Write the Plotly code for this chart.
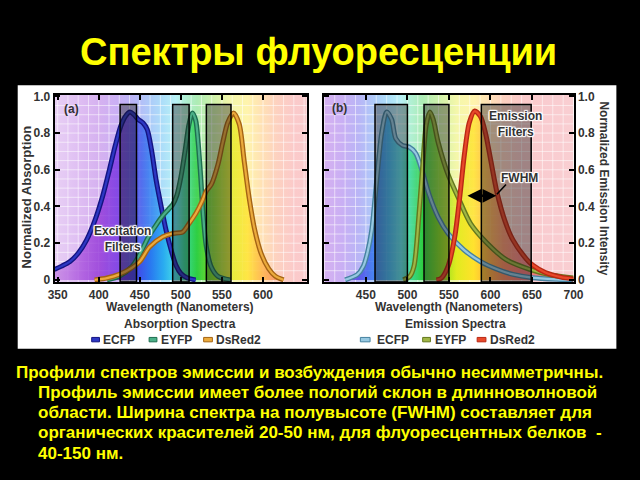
import plotly.graph_objects as go

W, H = 640, 480

# ---------------- data ----------------
abs_ecfp_wl = [346, 355, 365, 375, 385, 395, 405, 413, 420, 427, 433, 438, 443, 448, 454, 459, 464, 470, 476, 482, 488, 494, 500, 508, 518]
abs_ecfp = [0.057, 0.075, 0.10, 0.145, 0.215, 0.32, 0.46, 0.60, 0.73, 0.84, 0.895, 0.915, 0.90, 0.875, 0.855, 0.82, 0.715, 0.54, 0.40, 0.27, 0.165, 0.08, 0.035, 0.01, 0.0]

abs_eyfp_wl = [410, 425, 440, 450, 460, 470, 478, 485, 490, 495, 500, 505, 510, 514, 518, 521, 524, 527, 531, 537, 545, 560]
abs_eyfp = [0.0, 0.02, 0.07, 0.14, 0.23, 0.30, 0.35, 0.385, 0.41, 0.46, 0.56, 0.70, 0.85, 0.91, 0.87, 0.75, 0.57, 0.36, 0.18, 0.07, 0.02, 0.0]

abs_dsred_wl = [395, 410, 425, 440, 450, 462, 478, 490, 502, 510, 518, 526, 531, 537, 545, 551, 557, 564, 571, 577, 583, 590, 598, 607, 615, 625]
abs_dsred = [0.0, 0.01, 0.03, 0.065, 0.10, 0.18, 0.235, 0.253, 0.26, 0.307, 0.36, 0.43, 0.484, 0.52, 0.627, 0.75, 0.857, 0.91, 0.85, 0.65, 0.45, 0.27, 0.14, 0.06, 0.02, 0.0]

em_ecfp_wl = [425, 440, 447, 452, 457, 463, 469, 475, 481, 486, 494, 502, 510, 518, 526, 537, 549, 568, 588, 608, 627, 650, 680, 700]
em_ecfp = [0.0, 0.03, 0.075, 0.15, 0.27, 0.54, 0.80, 0.915, 0.875, 0.77, 0.733, 0.724, 0.69, 0.59, 0.467, 0.342, 0.253, 0.164, 0.10, 0.058, 0.03, 0.012, 0.003, 0.0]

em_eyfp_wl = [495, 503, 508, 514, 518.5, 522.5, 527, 531, 537, 549, 561, 576, 596, 619, 647, 675, 700]
em_eyfp = [0.0, 0.02, 0.075, 0.36, 0.627, 0.84, 0.915, 0.875, 0.75, 0.573, 0.45, 0.307, 0.2, 0.11, 0.058, 0.025, 0.01]

em_dsred_wl = [535, 541, 549, 557, 563, 568.5, 574.5, 581, 588, 594, 600, 607.5, 617.5, 627, 643, 651, 666, 685, 700]
em_dsred = [0.0, 0.01, 0.075, 0.235, 0.45, 0.68, 0.857, 0.92, 0.89, 0.80, 0.66, 0.484, 0.32, 0.218, 0.115, 0.08, 0.04, 0.015, 0.005]

excitation_filters = [(426, 446), (490, 510), (531, 561)]
emission_filters = [(461, 500), (520, 550), (589, 649)]
filter_top = 0.955

left_xticks = [350, 400, 450, 500, 550, 600]
right_xticks = [450, 500, 550, 600, 650, 700]
yticks = [0, 0.2, 0.4, 0.6, 0.8, 1.0]
ytick_text = ["0", "0.2", "0.4", "0.6", "0.8", "1.0"]

legend_names = ["ECFP", "EYFP", "DsRed2"]

# ---------------- styling ----------------
LEFT_RANGE = [346.4, 653.3]
RIGHT_RANGE = [400, 700]
Y_RANGE = [-0.012, 1.007]

abs_colors = [((20, 20, 130), (45, 55, 195)), ((30, 110, 80), (75, 175, 135)), ((165, 100, 20), (235, 170, 60))]
em_colors = [((70, 130, 160), (150, 200, 225)), ((100, 120, 30), (160, 182, 70)), ((185, 40, 20), (232, 72, 42))]

SAT = [(340, (200, 140, 225)), (360, (185, 110, 225)), (380, (165, 75, 220)), (400, (145, 50, 215)),
       (420, (115, 45, 225)), (440, (70, 60, 230)), (460, (40, 120, 240)), (475, (40, 170, 240)),
       (490, (70, 220, 230)), (500, (50, 215, 150)), (515, (40, 205, 60)), (535, (130, 220, 30)),
       (555, (225, 235, 30)), (575, (255, 225, 40)), (592, (255, 175, 60)), (610, (250, 135, 90)),
       (630, (245, 115, 115)), (660, (240, 120, 130)), (710, (240, 130, 140))]
G0, G1 = 340, 710


def rgb(c, a=1.0):
    return "rgba(%d,%d,%d,%.3f)" % (c[0], c[1], c[2], a)


def scale(alpha, pale=0.0):
    out = []
    for wl, c in SAT:
        cc = tuple(int(round(v + (255 - v) * pale)) for v in c)
        out.append([(wl - G0) / (G1 - G0), rgb(cc, alpha)])
    return out


def px2x(p):
    return p / W


def py2y(p):
    return 1 - p / H


fig = go.Figure()

FONT = "Liberation Sans, Arial, sans-serif"


def add_panel(xa, ya, xr, curves, wls, colors):
    # pale rainbow background
    for yb in (Y_RANGE[1], Y_RANGE[0]):
        fig.add_trace(go.Scatter(x=[xr[0], xr[1]], y=[yb, yb], xaxis=xa, yaxis=ya,
                                 mode="lines", line=dict(width=0), fill="tozeroy",
                                 fillgradient=dict(type="horizontal", colorscale=scale(1.0, 0.62), start=G0, stop=G1),
                                 hoverinfo="skip"))
    # grid
    gx, gy = [], []
    v = 350.0
    while v <= xr[1]:
        if v > xr[0]:
            gx += [v, v, None]
            gy += [Y_RANGE[0], Y_RANGE[1], None]
        v += 12.5
    h = 0.05
    while h < 1.0:
        gx += [xr[0], xr[1], None]
        gy += [h, h, None]
        h += 0.05
    fig.add_trace(go.Scatter(x=gx, y=gy, xaxis=xa, yaxis=ya, mode="lines",
                             line=dict(color="rgba(255,255,255,0.55)", width=1), hoverinfo="skip"))
    # saturated fills
    for x, y in zip(wls, curves):
        fig.add_trace(go.Scatter(x=x, y=y, xaxis=xa, yaxis=ya, mode="lines",
                                 line=dict(width=0, shape="spline", smoothing=0.8), fill="tozeroy",
                                 fillgradient=dict(type="horizontal", colorscale=scale(0.78), start=G0, stop=G1),
                                 hoverinfo="skip"))
    # outlines + cores
    for (x, y), (oc, cc), name in zip(zip(wls, curves), colors, legend_names):
        fig.add_trace(go.Scatter(x=x, y=y, xaxis=xa, yaxis=ya, mode="lines", name=name,
                                 line=dict(color=rgb(oc), width=5, shape="spline", smoothing=0.8)))
        fig.add_trace(go.Scatter(x=x, y=y, xaxis=xa, yaxis=ya, mode="lines", name=name,
                                 line=dict(color=rgb(cc), width=2.2, shape="spline", smoothing=0.8)))


add_panel("x", "y", LEFT_RANGE, [abs_ecfp, abs_eyfp, abs_dsred], [abs_ecfp_wl, abs_eyfp_wl, abs_dsred_wl], abs_colors)
add_panel("x2", "y2", RIGHT_RANGE, [em_ecfp, em_eyfp, em_dsred], [em_ecfp_wl, em_eyfp_wl, em_dsred_wl], em_colors)

tickfont = dict(family=FONT, size=12, color="#333333", weight="bold")
axcommon = dict(showline=True, linecolor="black", linewidth=2, mirror="ticks", ticks="inside",
                ticklen=5, tickwidth=1.5, tickcolor="black", showgrid=False, zeroline=False,
                tickfont=tickfont)
ydom = [py2y(283), py2y(92)]

shapes = []
# white panel
shapes.append(dict(type="rect", xref="paper", yref="paper", x0=px2x(11), x1=px2x(626),
                   y0=py2y(351), y1=py2y(82), fillcolor="white", line=dict(width=0), layer="below"))
for (a, b) in excitation_filters:
    shapes.append(dict(type="rect", xref="x", yref="y", x0=a, x1=b, y0=Y_RANGE[0], y1=filter_top,
                       fillcolor="rgba(25,25,25,0.40)", line=dict(color="black", width=1.5), layer="above"))
for (a, b) in emission_filters:
    shapes.append(dict(type="rect", xref="x2", yref="y2", x0=a, x1=b, y0=Y_RANGE[0], y1=filter_top,
                       fillcolor="rgba(25,25,25,0.40)", line=dict(color="black", width=1.5), layer="above"))
# FWHM leader
shapes.append(dict(type="line", xref="x2", yref="y2", x0=607.7, y0=0.467, x1=618.7, y1=0.52,
                   line=dict(color="black", width=1.5), layer="above"))

ann = []
HALO = ("1px 0px 1px #fff, -1px 0px 1px #fff, 0px 1px 1px #fff, 0px -1px 1px #fff, "
        "1px 1px 1px #fff, -1px -1px 1px #fff, 1px -1px 1px #fff, -1px 1px 1px #fff")


def label(text, x, y, size=12, color="#333333", xref="paper", yref="paper", xanchor="center", angle=0,
          halo=False):
    ann.append(dict(text=text, x=x, y=y, xref=xref, yref=yref, xanchor=xanchor, yanchor="middle",
                    showarrow=False, textangle=angle,
                    font=dict(family=FONT, size=size, color=color, weight="bold",
                              shadow=HALO if halo else "none")))


# title
label("Спектры флуоресценции", px2x(320), py2y(48), size=38, color="#ffff00")
# axis titles
label("Normalized Absorption", px2x(20), py2y(196), size=13, angle=-90)
label("Normalized Emission Intensity", px2x(613), py2y(187), size=12, angle=90)
label("Wavelength (Nanometers)", px2x(178), py2y(308))
label("Wavelength (Nanometers)", px2x(454), py2y(308))
label("Absorption Spectra", px2x(177.5), py2y(326))
label("Emission Spectra", px2x(461), py2y(326))
# panel labels
label("(a)", 367, 0.93, xref="x", yref="y")
label("(b)", 418, 0.935, xref="x2", yref="y2")
label("Excitation<br>Filters", 429, 0.225, xref="x", yref="y", halo=True)
label("Emission<br>Filters", 630, 0.85, xref="x2", yref="y2", halo=True)
label("FWHM", 635.5, 0.555, xref="x2", yref="y2", halo=True)
# FWHM arrow
ann.append(dict(x=607, y=0.458, ax=570.5, ay=0.458, xref="x2", yref="y2", axref="x2", ayref="y2",
                text="", showarrow=True, arrowhead=2, arrowside="end+start", arrowwidth=2.5,
                arrowsize=1.1, arrowcolor="black"))

# manual legends
leg_left = [(87, 95, 97), (146, 154, 156), (202, 211, 213)]
leg_right = [(363, 373, 378), (427, 435, 438), (483, 492, 494)]
for items, cols in ((leg_left, abs_colors), (leg_right, em_colors)):
    for (s0, s1, tx), (oc, cc), name in zip(items, cols, legend_names):
        shapes.append(dict(type="rect", xref="paper", yref="paper", x0=px2x(s0), x1=px2x(s1),
                           y0=py2y(344), y1=py2y(339.5), fillcolor=rgb(cc),
                           line=dict(color=rgb(oc), width=1), layer="above"))
        label(name, px2x(tx), py2y(342), xanchor="left")

# paragraph
para = ["Профили спектров эмиссии и возбуждения обычно несимметричны.",
        "Профиль эмиссии имеет более пологий склон в длинноволновой",
        "области. Ширина спектра на полувысоте (FWHM) составляет для",
        "органических красителей 20-50 нм, для флуоресцентных белков  -",
        "40-150 нм."]
para_x = [7, 30, 30, 30, 30]
para_y = [375, 396, 416, 437, 458]
for t, x, y in zip(para, para_x, para_y):
    label(t, px2x(x), py2y(y), size=17, color="#ffff00", xanchor="left")

fig.update_layout(
    width=W, height=H, margin=dict(l=0, r=0, t=0, b=0),
    paper_bgcolor="black", plot_bgcolor="white", showlegend=False,
    xaxis=dict(domain=[px2x(49), px2x(308)], range=LEFT_RANGE, anchor="y", tickvals=left_xticks, **axcommon),
    yaxis=dict(domain=ydom, range=Y_RANGE, anchor="x", tickvals=yticks, ticktext=ytick_text, **axcommon),
    xaxis2=dict(domain=[px2x(326), px2x(582)], range=RIGHT_RANGE, anchor="y2", tickvals=right_xticks, **axcommon),
    yaxis2=dict(domain=ydom, range=Y_RANGE, anchor="x2", side="right", tickvals=yticks, ticktext=ytick_text, **axcommon),
    shapes=shapes, annotations=ann,
)

fig.write_html("out.html")
